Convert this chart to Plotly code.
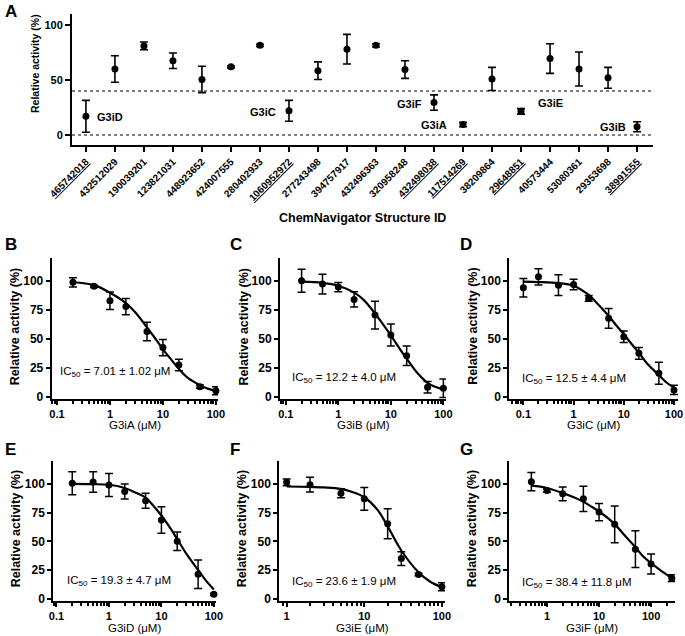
import plotly.graph_objects as go

W, H = 685, 636
FONT = "Liberation Sans, Arial, sans-serif"

# ---------------- Panel A data ----------------
a_ids = ['465742018', '432512029', '190039201', '123821031', '448923652',
         '424007555', '280402933', '1060952972', '277243498', '394757917',
         '432496363', '320958248', '432498038', '117514269', '38209864',
         '29648851', '40573444', '53080361', '29353698', '38991555']
a_underlined = [1, 0, 0, 0, 0, 0, 0, 1, 0, 0, 0, 0, 1, 1, 0, 1, 0, 0, 0, 1]
a_activity = [17, 60, 81, 67.5, 50.5, 62, 81.5, 22, 58.5, 78,
              81.5, 59.5, 29.5, 9.5, 51, 21.5, 69.5, 60, 52, 7.5]
a_error = [14.5, 12, 3.5, 7, 12, 1, 1, 9.5, 8, 13.5,
           1.5, 8, 7, 2, 10.5, 2.5, 13.5, 15.5, 9.5, 4.5]
a_hits = ['G3iD', 'G3iC', 'G3iF', 'G3iA', 'G3iE', 'G3iB']
a_threshold = 40
a_yticks = [0, 50, 100]

# ---------------- Dose-response data ----------------
b_conc = [0.2, 0.5, 1, 2, 5, 10, 20, 50, 100]
b_act = [99, 95.5, 83, 78, 56.5, 42.5, 27.5, 8.7, 5.2]
b_err = [4, 1, 7.5, 7, 8, 7, 5, 1.5, 3.5]
b_fit_x = [0.2, 0.5, 1, 2, 3, 5, 7, 10, 15, 20, 30, 50, 70, 100]
b_fit_y = [99, 96.5, 90, 81, 73, 60, 51, 41, 31, 24, 16, 10, 7, 5]

c_conc = [0.2, 0.5, 1, 2, 5, 10, 20, 50, 100]
c_act = [100.3, 97.4, 94.8, 84.2, 70.6, 53.3, 35.4, 8.1, 7.2]
c_err = [10, 8.5, 4, 6.5, 12, 9.5, 8.5, 5, 8]
c_fit_x = [0.2, 0.5, 1, 2, 3, 5, 7, 10, 15, 20, 30, 50, 70, 100]
c_fit_y = [99.5, 98.5, 96, 90, 84, 72, 63, 53, 41, 33, 22, 12, 8.5, 6]

d_conc = [0.1, 0.2, 0.5, 1, 2, 5, 10, 20, 50, 100]
d_act = [94.2, 103.7, 96.5, 97.1, 85, 67.8, 51.9, 37.5, 20.2, 5.8]
d_err = [8, 7, 9, 4.5, 2.5, 8.5, 5, 5, 9.5, 4]
d_fit_x = [0.1, 0.2, 0.5, 1, 2, 3, 5, 7, 10, 15, 20, 30, 50, 70, 100]
d_fit_y = [99.5, 99.2, 98.3, 96, 88, 80.5, 70, 62, 54, 44.5, 38, 28, 18.8, 12.5, 7.8]

e_conc = [0.2, 0.5, 1, 2, 5, 10, 20, 50, 100]
e_act = [100.6, 101.7, 99.1, 93.4, 85.3, 68.6, 50.1, 21.3, 3.8]
e_err = [10, 9, 10, 6.5, 6.5, 11.5, 8, 12.5, 1]
e_fit_x = [0.2, 0.5, 1, 2, 3, 5, 7, 10, 15, 20, 30, 50, 70, 100]
e_fit_y = [100, 99.8, 99.3, 96.5, 93, 88, 81, 72.5, 61, 52, 39, 25, 16, 8]

f_conc = [1, 2, 5, 10, 20, 30, 50, 100]
f_act = [101.4, 99.4, 91.9, 87, 65.3, 35, 21.1, 10.4]
f_err = [3, 6.5, 4, 10, 13, 6, 1, 3.5]
f_fit_x = [1, 2, 3, 5, 7, 10, 15, 20, 30, 50, 70, 100]
f_fit_y = [97.8, 97.5, 97, 95.7, 93, 88.4, 77, 63, 42, 23, 15, 10]

g_conc = [0.5, 1, 2, 5, 10, 20, 50, 100, 250]
g_act = [102, 94.2, 91.4, 87, 75.5, 64.8, 43.2, 30.2, 17.9]
g_err = [8, 1.5, 6, 11, 7.5, 16, 16, 8.7, 3]
g_fit_x = [0.5, 1, 2, 3, 5, 7, 10, 15, 20, 30, 50, 70, 100, 150, 250]
g_fit_y = [98.5, 96.5, 92, 89, 84.5, 80.5, 76, 70, 65, 56, 45, 37, 31, 25, 18]

compounds = ['G3iA', 'G3iB', 'G3iC', 'G3iD', 'G3iE', 'G3iF']
ic50_text = ['7.01 ± 1.02', '12.2 ± 4.0', '12.5 ± 4.4', '19.3 ± 4.7', '23.6 ± 1.9', '38.4 ± 11.8']
dr_yticks = [0, 25, 50, 75, 100]


def fx(px):
    return px / W


def fy(py):
    return 1 - py / H


fig = go.Figure()
annotations = []
shapes = []


def note(text, x, y, size, xanchor='center', yanchor='middle', angle=0, ref='paper'):
    annotations.append(dict(text=text, x=x, y=y, xref=ref, yref=ref, showarrow=False,
                            xanchor=xanchor, yanchor=yanchor, textangle=angle,
                            font=dict(family=FONT, size=size, color='black')))


axis_base = dict(showline=True, linecolor='black', linewidth=2, ticks='outside',
                 tickcolor='black', tickwidth=2, ticklen=4, showgrid=False,
                 zeroline=False, mirror=False, automargin=False,
                 tickfont=dict(family=FONT, size=12, color='black', weight='bold'))

# ---------------- Panel A ----------------
A_box = (72, 653, 14, 145)
fig.add_trace(go.Scatter(
    x=list(range(len(a_ids))), y=a_activity, mode='markers',
    marker=dict(color='black', size=7),
    error_y=dict(type='data', array=a_error, color='black', thickness=1.6, width=4),
    xaxis='x', yaxis='y', showlegend=False, cliponaxis=False))

tick_text = [f'<u>{t}</u>' if u else t for t, u in zip(a_ids, a_underlined)]
layout = dict(
    template='none',
    width=W, height=H, margin=dict(l=0, r=0, t=0, b=0, autoexpand=False),
    paper_bgcolor='white', plot_bgcolor='white', showlegend=False,
    font=dict(family=FONT, color='black'),
)
layout['xaxis'] = dict(axis_base, domain=[fx(A_box[0]), fx(A_box[1])], anchor='y',
                       range=[-0.48, 19.55], tickvals=list(range(len(a_ids))),
                       ticktext=tick_text, tickangle=-45, ticklen=5,
                       tickfont=dict(family=FONT, size=10, color='black', weight='bold'))
layout['yaxis'] = dict(axis_base, domain=[fy(A_box[3]), fy(A_box[2])], anchor='x',
                       range=[-9.1, 110], tickvals=a_yticks, ticklen=5,
                       tickfont=dict(family=FONT, size=11, color='black', weight='bold'))

for yv in [a_threshold, 0]:
    shapes.append(dict(type='line', xref='x domain', yref='y', x0=0, x1=1, y0=yv, y1=yv,
                       line=dict(color='black', width=1.2, dash='dot')))

hit_pos = [(0.83, 16.4), (6.1, 21.2), (11.17, 28.2), (12.0, 9.1), (16.0, 29.1), (18.16, 7.3)]
for name, (hx, hy) in zip(a_hits, hit_pos):
    annotations.append(dict(text=f'<b>{name}</b>', x=hx, y=hy, xref='x', yref='y',
                            xanchor='center', yanchor='middle', showarrow=False,
                            font=dict(family=FONT, size=11, color='black')))

note('<b>Relative activity (%)</b>', fx(35), fy(64), 10.5, angle=-90)
note('<b>ChemNavigator Structure ID</b>', fx(362), fy(218), 12.5)

# ---------------- Panels B-G ----------------
panels = [
    dict(conc=b_conc, act=b_act, err=b_err, fx_=b_fit_x, fy_=b_fit_y,
         box=(51.7, 218, 258, 399), xr=[-1.10, 2.04], ic=(58, 372)),
    dict(conc=c_conc, act=c_act, err=c_err, fx_=c_fit_x, fy_=c_fit_y,
         box=(280, 446, 258, 399), xr=[-1.11, 2.05], ic=(290, 378)),
    dict(conc=d_conc, act=d_act, err=d_err, fx_=d_fit_x, fy_=d_fit_y,
         box=(509.3, 678, 258, 399), xr=[-1.28, 2.08], ic=(520, 379)),
    dict(conc=e_conc, act=e_act, err=e_err, fx_=e_fit_x, fy_=e_fit_y,
         box=(53.3, 216, 461, 601), xr=[-1.06, 2.04], ic=(65, 581)),
    dict(conc=f_conc, act=f_act, err=f_err, fx_=f_fit_x, fy_=f_fit_y,
         box=(279.3, 445, 461, 601), xr=[-0.095, 2.04], ic=(290, 582)),
    dict(conc=g_conc, act=g_act, err=g_err, fx_=g_fit_x, fy_=g_fit_y,
         box=(509.3, 675, 461, 601), xr=[-0.725, 2.46], ic=(520, 583)),
]

minor_vals = [m * 10 ** e for e in range(-2, 3) for m in range(2, 10)]
major_vals = [0.1, 1, 10, 100]
major_text = ['0.1', '1', '10', '100']

for i, p in enumerate(panels):
    n = i + 2
    xa, ya = f'x{n}', f'y{n}'
    x0, x1, y0, y1 = p['box']
    fig.add_trace(go.Scatter(x=p['fx_'], y=p['fy_'], mode='lines',
                             line=dict(color='black', width=2.2, shape='spline', smoothing=1.0),
                             xaxis=xa, yaxis=ya, showlegend=False, hoverinfo='skip'))
    fig.add_trace(go.Scatter(x=p['conc'], y=p['act'], mode='markers',
                             marker=dict(color='black', size=7),
                             error_y=dict(type='data', array=p['err'], color='black',
                                          thickness=1.5, width=4),
                             xaxis=xa, yaxis=ya, showlegend=False, cliponaxis=False))
    layout[f'xaxis{n}'] = dict(axis_base, domain=[fx(x0), fx(x1)], anchor=ya, type='log',
                               range=p['xr'], tickvals=major_vals, ticktext=major_text,
                               tickfont=dict(family=FONT, size=11, color='black', weight='bold'),
                               minor=dict(ticks='outside', ticklen=2.5, tickwidth=1.5,
                                          tickcolor='black', tickvals=minor_vals))
    layout[f'yaxis{n}'] = dict(axis_base, domain=[fy(y1), fy(y0)], anchor=xa,
                               range=[-2, 120], tickvals=dr_yticks)
    cx = (x0 + x1) / 2
    title_y = 425 if y0 < 400 else 628
    note(f'{compounds[i]} (μM)', fx(cx), fy(title_y), 11.5)
    note('<b>Relative activity (%)</b>', fx(x0 - 37), fy((y0 + y1) / 2 - 2), 12.5, angle=-90)
    note(f'IC<sub>50</sub> = {ic50_text[i]} μM', fx(p['ic'][0]), fy(p['ic'][1]), 11.5,
         xanchor='left')

letters = [('A', 3, 11), ('B', 3, 244), ('C', 228, 244), ('D', 458, 244),
           ('E', 3, 449), ('F', 228, 449), ('G', 458, 449)]
for L, lx, ly in letters:
    note(f'<b>{L}</b>', fx(lx), fy(ly), 17, xanchor='left')

layout['annotations'] = annotations
layout['shapes'] = shapes
fig.update_layout(**layout)
fig.write_html('out.html', config={'displayModeBar': False},
               post_script="document.body.style.margin='0';document.body.style.overflow='hidden';")
